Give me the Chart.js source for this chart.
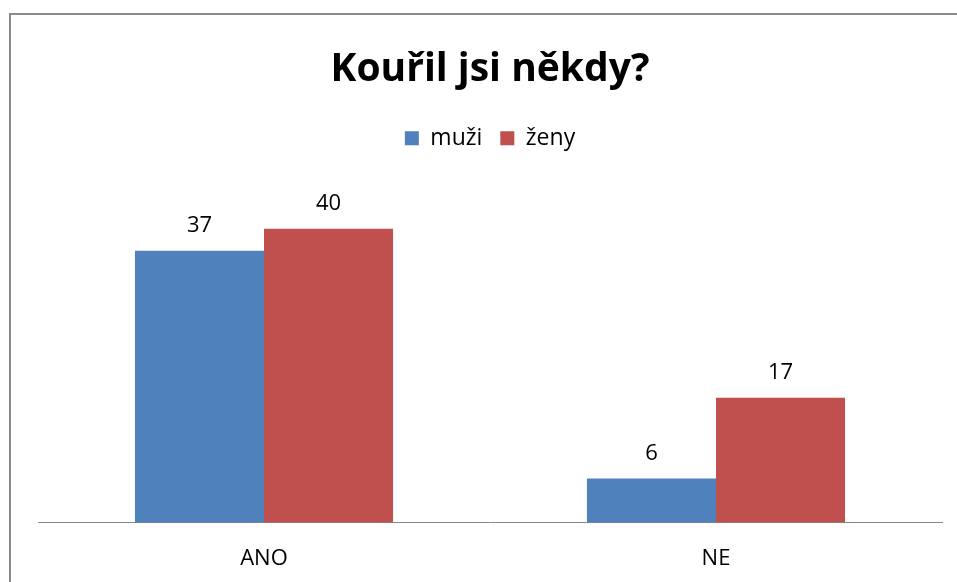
<!DOCTYPE html>
<html>
<head>
<meta charset="utf-8">
<script src="https://cdn.jsdelivr.net/npm/chart.js@4"></script>
<style>
  html, body { margin: 0; padding: 0; background: #fff; overflow: hidden; }
  #frame { position: absolute; left: 9px; top: 13px; width: 1000px; height: 700px;
           border-left: 2px solid #8a8a8a; border-top: 2px solid #8a8a8a; }
  #wrap { position: absolute; left: 0; top: 0; width: 957px; height: 595px; }
</style>
</head>
<body>
<div id="frame"></div>
<div id="wrap"><canvas id="chart" width="957" height="595"></canvas></div>
<script>
// categories and series
const categories = ["ANO", "NE"];
const muzi = [37, 6];
const zeny = [40, 17];
const seriesNames = ["muži", "ženy"];

const FONT = "'Open Sans', sans-serif";

// value labels above the bars
const valueLabels = {
    id: "valueLabels",
    afterDatasetsDraw(chart) {
        const ctx = chart.ctx;
        ctx.save();
        ctx.font = "22px " + FONT;
        ctx.fillStyle = "#000";
        ctx.textAlign = "center";
        ctx.textBaseline = "alphabetic";
        chart.data.datasets.forEach((ds, i) => {
            chart.getDatasetMeta(i).data.forEach((bar, j) => {
                ctx.fillText(ds.data[j], bar.x, bar.y - 19);
            });
        });
        ctx.restore();
    }
};

const context = document.getElementById("chart").getContext("2d");
const chart = new Chart(context, {
    type: "bar",
    data: {
        labels: categories,
        datasets: [{
            label: seriesNames[0],
            data: muzi,
            backgroundColor: "#4F81BD",
            categoryPercentage: 0.571,
            barPercentage: 1
        }, {
            label: seriesNames[1],
            data: zeny,
            backgroundColor: "#C0504D",
            categoryPercentage: 0.571,
            barPercentage: 1
        }]
    },
    options: {
        responsive: false,
        animation: false,
        layout: { padding: { left: 38, right: 15, top: 0, bottom: 0 } },
        plugins: {
            title: {
                display: true,
                text: "Kouřil jsi někdy?",
                color: "#000",
                font: { family: FONT, size: 39, weight: "bold" },
                padding: { top: 46, bottom: 16 }
            },
            legend: {
                labels: {
                    color: "#000",
                    font: { family: FONT, size: 23 },
                    boxWidth: 14,
                    boxHeight: 14,
                    padding: 18
                }
            },
            tooltip: { enabled: false }
        },
        scales: {
            x: {
                grid: { display: false, drawTicks: false },
                border: { display: true, color: "#868686", width: 1 },
                ticks: { color: "#000", font: { family: FONT, size: 22 }, padding: 23 }
            },
            y: {
                display: false,
                min: 0,
                max: 49.4
            }
        }
    },
    plugins: [valueLabels]
});
</script>
</body>
</html>
